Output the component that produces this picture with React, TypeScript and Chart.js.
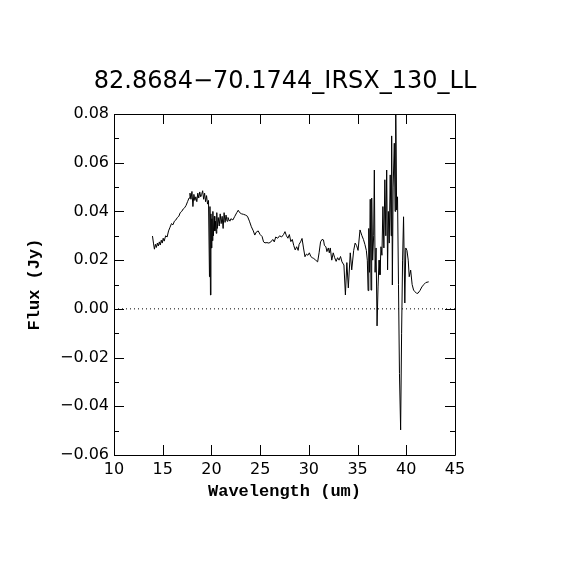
import React, { useEffect, useRef } from "react";
import { Chart, registerables } from "chart.js";

Chart.register(...registerables);

const TITLE = "82.8684\u221270.1744_IRSX_130_LL";
const X_TITLE = "Wavelength (um)";
const Y_TITLE = "Flux (Jy)";

const X_MIN = 10;
const X_MAX = 45;
const X_STEP = 5;
const Y_MIN = -0.06;
const Y_MAX = 0.08;
const Y_STEP = 0.02;

const wavelength: number[] = [
  13.95, 14.05, 14.15, 14.25, 14.35, 14.45, 14.55, 14.65, 14.75, 14.85, 14.95, 15.05, 15.15, 15.3, 15.45,
  15.6, 15.75, 15.9, 16.05, 16.2, 16.35, 16.5, 16.65, 16.8, 16.95, 17.1, 17.25, 17.4, 17.55, 17.7,
  17.8, 17.9, 18.0, 18.1, 18.2, 18.3, 18.4, 18.5, 18.6, 18.7, 18.8, 18.9, 19.0, 19.1, 19.2,
  19.3, 19.4, 19.5, 19.6, 19.7, 19.8, 19.85, 19.9, 19.95, 20.0, 20.05, 20.1, 20.15, 20.2, 20.3,
  20.35, 20.4, 20.5, 20.55, 20.6, 20.7, 20.8, 20.9, 21.0, 21.1, 21.2, 21.3, 21.4, 21.5, 21.6,
  21.7, 21.8, 21.9, 22.0, 22.2, 22.4, 22.6, 22.75, 22.9, 23.1, 23.3, 23.5, 23.7, 23.9, 24.1,
  24.3, 24.45, 24.6, 24.8, 25.0, 25.2, 25.35, 25.5, 25.7, 25.9, 26.1, 26.3, 26.45, 26.6, 26.8,
  27.0, 27.2, 27.4, 27.55, 27.7, 27.85, 28.0, 28.15, 28.3, 28.45, 28.6, 28.75, 28.9, 29.0, 29.15,
  29.3, 29.45, 29.6, 29.75, 29.9, 30.05, 30.2, 30.35, 30.5, 30.7, 30.9, 31.05, 31.2, 31.35, 31.5,
  31.6, 31.75, 31.85, 32.0, 32.1, 32.2, 32.35, 32.5, 32.65, 32.8, 32.95, 33.1, 33.25, 33.4, 33.6,
  33.75, 33.9, 34.05, 34.25, 34.4, 34.6, 34.75, 34.9, 35.05, 35.25, 35.45, 35.6, 35.75, 35.9, 36.0,
  36.08, 36.15, 36.22, 36.3, 36.38, 36.45, 36.55, 36.65, 36.72, 36.8, 36.9, 37.0, 37.1, 37.2, 37.3,
  37.4, 37.5, 37.6, 37.7, 37.8, 37.9, 37.99, 38.08, 38.16, 38.25, 38.35, 38.45, 38.5, 38.57, 38.65,
  38.77, 38.85, 38.91, 39.01, 39.1, 39.2, 39.3, 39.42, 39.52, 39.62, 39.72, 39.85, 39.95, 40.07, 40.2,
  40.3, 40.45, 40.6, 40.75, 40.9, 41.05, 41.2, 41.4, 41.6, 41.8, 42.0, 42.3,
];

const flux: number[] = [
  0.0299, 0.027, 0.0245, 0.0265, 0.0252, 0.027, 0.0258, 0.0275, 0.0262, 0.0282, 0.027, 0.029, 0.0278, 0.03, 0.0295,
  0.032, 0.0335, 0.035, 0.0345, 0.036, 0.0365, 0.0375, 0.038, 0.0395, 0.04, 0.041, 0.0415, 0.0425, 0.044, 0.0455,
  0.0475, 0.045, 0.0482, 0.042, 0.047, 0.0445, 0.046, 0.044, 0.0475, 0.0455, 0.048, 0.046, 0.047, 0.0485, 0.045,
  0.0475, 0.044, 0.0465, 0.043, 0.0445, 0.0132, 0.042, 0.0057, 0.039, 0.025, 0.037, 0.028, 0.04, 0.03, 0.038,
  0.032, 0.036, 0.031, 0.0395, 0.033, 0.0375, 0.034, 0.039, 0.035, 0.038, 0.033, 0.0395, 0.0355, 0.0385, 0.036,
  0.0375, 0.0365, 0.036, 0.037, 0.0365, 0.038, 0.0395, 0.0405, 0.0395, 0.039, 0.0388, 0.0385, 0.038, 0.036, 0.0337,
  0.032, 0.0303, 0.0315, 0.032, 0.0305, 0.0297, 0.0275, 0.0271, 0.0272, 0.027, 0.0275, 0.0285, 0.0275, 0.0295, 0.029,
  0.03, 0.0295, 0.0305, 0.0317, 0.03, 0.029, 0.0305, 0.0276, 0.0285, 0.026, 0.0242, 0.0255, 0.024, 0.0265, 0.0275,
  0.0289, 0.025, 0.0214, 0.0225, 0.022, 0.023, 0.0215, 0.021, 0.0207, 0.02, 0.0193, 0.023, 0.0275, 0.0285, 0.0283,
  0.026, 0.0255, 0.0235, 0.025, 0.023, 0.025, 0.02, 0.023, 0.021, 0.0195, 0.021, 0.02, 0.0215, 0.0193, 0.018,
  0.0057, 0.019, 0.0086, 0.023, 0.016, 0.024, 0.027, 0.026, 0.024, 0.0324, 0.03, 0.0285, 0.0265, 0.024, 0.02,
  0.0075, 0.033, 0.015, 0.045, 0.0077, 0.0455, 0.02, 0.03, 0.057, 0.015, 0.025, -0.007, 0.009, 0.02, 0.014,
  0.0255, 0.022, 0.042, 0.025, 0.053, 0.03, 0.057, 0.016, 0.04, 0.027, 0.055, 0.03, 0.071, 0.0098, 0.05,
  0.068, 0.04, 0.09, 0.0406, 0.046, 0.01, -0.0265, -0.0497, -0.01, 0.02, 0.0378, 0.0024, 0.025, 0.024, 0.02,
  0.0132, 0.0159, 0.01, 0.0077, 0.007, 0.0064, 0.0064, 0.0075, 0.009, 0.01, 0.0108, 0.0111,
];

const zeroLineX: number[] = [X_MIN, X_MAX];
const zeroLineY: number[] = [0, 0];

const fmtY = (v: number) => {
  const s = Math.abs(v) < 1e-9 ? "0.00" : v.toFixed(2);
  return s.replace("-", "\u2212");
};

const framePlugin = {
  id: "frameTicks",
  afterDatasetsDraw(chart: any) {
    const { ctx, chartArea } = chart;
    const { left, right, top, bottom } = chartArea;
    const xs = chart.scales.x;
    const ys = chart.scales.y;
    ctx.save();
    ctx.strokeStyle = "#000";
    ctx.lineWidth = 1;
    ctx.beginPath();
    ctx.rect(Math.round(left) + 0.5, Math.round(top) + 0.5, Math.round(right - left), Math.round(bottom - top));
    ctx.stroke();
    const major = 10;
    const minor = 5;
    ctx.beginPath();
    xs.ticks.forEach((t: any) => {
      const px = Math.round(xs.getPixelForValue(t.value)) + 0.5;
      ctx.moveTo(px, bottom);
      ctx.lineTo(px, bottom - major);
      ctx.moveTo(px, top);
      ctx.lineTo(px, top + major);
    });
    const yt = ys.ticks.map((t: any) => t.value);
    yt.forEach((v: number, i: number) => {
      const py = Math.round(ys.getPixelForValue(v)) + 0.5;
      ctx.moveTo(left, py);
      ctx.lineTo(left + major, py);
      ctx.moveTo(right, py);
      ctx.lineTo(right - major, py);
      if (i < yt.length - 1) {
        const mv = (v + yt[i + 1]) / 2;
        const pm = Math.round(ys.getPixelForValue(mv)) + 0.5;
        ctx.moveTo(left, pm);
        ctx.lineTo(left + minor, pm);
        ctx.moveTo(right, pm);
        ctx.lineTo(right - minor, pm);
      }
    });
    ctx.stroke();
    ctx.restore();
  },
};

export default function App() {
  const ref = useRef<HTMLCanvasElement | null>(null);

  useEffect(() => {
    if (!ref.current) return;
    const spectrum = wavelength.map((x, i) => ({ x, y: flux[i] }));
    const zero = zeroLineX.map((x, i) => ({ x, y: zeroLineY[i] }));
    const chart = new Chart(ref.current, {
      type: "line",
      data: {
        datasets: [
          {
            data: zero,
            borderColor: "#000",
            borderWidth: 1,
            borderDash: [1, 3],
            pointRadius: 0,
            fill: false,
          },
          {
            data: spectrum,
            borderColor: "#000",
            borderWidth: 1,
            pointRadius: 0,
            tension: 0,
            fill: false,
          },
        ],
      },
      options: {
        animation: false,
        responsive: false,
        devicePixelRatio: 1,
        events: [],
        layout: { padding: { left: 0, right: 0, top: 0, bottom: 60 } },
        plugins: {
          legend: { display: false },
          tooltip: { enabled: false },
          title: {
            display: true,
            text: TITLE,
            color: "#000",
            font: { family: "DejaVu Sans", size: 24, weight: "normal", lineHeight: 1.2 },
            padding: { top: 67, bottom: 18.2 },
            align: "center",
          },
        },
        scales: {
          x: {
            type: "linear",
            min: X_MIN,
            max: X_MAX,
            ticks: {
              stepSize: X_STEP,
              color: "#000",
              padding: 5,
              maxRotation: 0,
              font: { family: "DejaVu Sans", size: 16 },
              callback: (v: any) => String(v),
            },
            grid: { display: false, drawTicks: false },
            border: { display: false },
            title: {
              display: true,
              text: X_TITLE,
              color: "#000",
              font: { family: "Liberation Mono", size: 17, weight: "bold", lineHeight: 1.2 },
              padding: { top: 0, bottom: 8 },
            },
            afterFit: (s: any) => {
              s.height = 55;
            },
          },
          y: {
            type: "linear",
            min: Y_MIN,
            max: Y_MAX,
            ticks: {
              stepSize: Y_STEP,
              color: "#000",
              padding: 5,
              font: { family: "DejaVu Sans", size: 16 },
              callback: (v: any) => fmtY(Number(v)),
            },
            grid: { display: false, drawTicks: false },
            border: { display: false },
            title: {
              display: true,
              text: Y_TITLE,
              color: "#000",
              font: { family: "Liberation Mono", size: 17, weight: "bold", lineHeight: 1.2 },
              padding: { top: 25, bottom: 0 },
            },
            afterFit: (s: any) => {
              s.width = 114;
            },
          },
          yRight: {
            type: "linear",
            position: "right",
            display: true,
            min: Y_MIN,
            max: Y_MAX,
            ticks: { display: false },
            grid: { display: false, drawTicks: false },
            border: { display: false },
            afterFit: (s: any) => {
              s.width = 115;
            },
          },
        },
      },
      plugins: [framePlugin],
    });
    return () => chart.destroy();
  }, []);

  return (
    <div style={{ position: "absolute", left: 0, top: 0, width: 570, height: 570, background: "#fff" }}>
      <canvas ref={ref} width={570} height={570} style={{ width: 570, height: 570, display: "block" }} />
    </div>
  );
}
